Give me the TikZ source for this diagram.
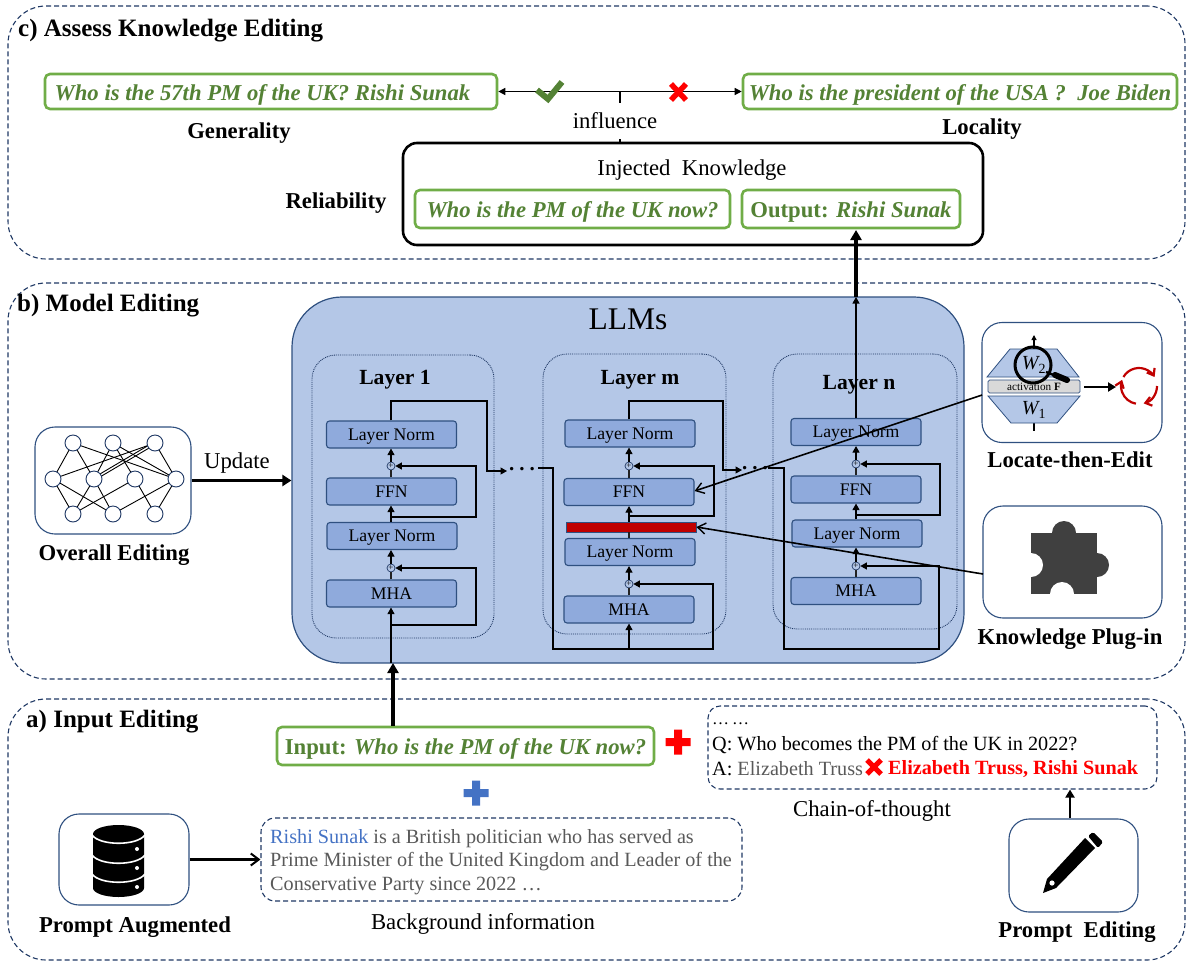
\documentclass[tikz,border=0pt]{standalone}
\usepackage{fontspec}
\setmainfont{Liberation Serif}
\usetikzlibrary{arrows.meta,shapes.geometric,calc}
\definecolor{navy}{HTML}{1F3864}
\definecolor{edgeblue}{HTML}{2F5080}
\definecolor{llmfill}{HTML}{B4C7E7}
\definecolor{blockfill}{HTML}{8FAADC}
\definecolor{gborder}{HTML}{70AD47}
\definecolor{gtext}{HTML}{548235}
\definecolor{darkred}{HTML}{C00000}
\definecolor{wire}{HTML}{222222}
\definecolor{plusblue}{HTML}{4472C4}
\definecolor{puzzle}{HTML}{404040}
\definecolor{greytext}{HTML}{595959}
\newcommand{\fs}[1]{\fontsize{#1}{#1}\selectfont}
\tikzset{
 panel/.style={draw=navy,line width=1.1pt,dash pattern=on 5pt off 3pt,rounded corners=38pt,inner sep=0},
 gbox/.style={draw=gborder,line width=2.6pt,rounded corners=5pt,fill=white,inner sep=0,text=gtext,font=\fs{22.7}\bfseries\itshape,text height=20pt,text depth=3pt},
 iconbox/.style={draw=edgeblue,line width=1.1pt,rounded corners=20pt,fill=white,inner sep=0},
 block/.style={draw=edgeblue,fill=blockfill,line width=1.1pt,rounded corners=3pt,minimum width=130pt,minimum height=27pt,inner sep=0,font=\fs{17.7},text height=14pt,text depth=3pt},
 layerbox/.style={draw=navy,densely dotted,line width=0.9pt,rounded corners=24pt,inner sep=0},
 plusc/.style={circle,draw=navy,fill=llmfill,line width=0.7pt,minimum size=8pt,inner sep=0,font=\fs{9}},
 wirel/.style={draw=wire,line width=1.1pt},
 wirea/.style={draw=black,line width=1.1pt,-{Triangle[length=6.5pt,width=7pt]}},
 bigarrow/.style={draw=black,line width=3.4pt,-{Triangle[length=9pt,width=11pt]}},
 openarrow/.style={draw=black,line width=1.6pt,-{Straight Barb[length=8pt,width=11pt,line width=1.4pt]}},
 lab/.style={inner sep=0,font=\fs{22.7}},
 blab/.style={inner sep=0,font=\fs{22.7}\bfseries},
 netn/.style={circle,draw=navy,fill=white,line width=0.9pt,minimum size=16pt,inner sep=0},
 netl/.style={draw=black,line width=0.9pt},
 txtl/.style={inner sep=0,anchor=west,font=\fs{20.2}},
}
\newcommand{\plusmark}[3]{\fill[#3] ($(#1,#2)+(-12.5,-4)$) -- ++(8.5,0) -- ++(0,-8.5) -- ++(8,0) -- ++(0,8.5) -- ++(8.5,0) -- ++(0,8) -- ++(-8.5,0) -- ++(0,8.5) -- ++(-8,0) -- ++(0,-8.5) -- ++(-8.5,0) -- cycle;}
\begin{document}
\begin{tikzpicture}[x=1pt,y=-1pt]
\useasboundingbox (0,0) rectangle (1190,961);
% panels
\node[panel,minimum width=1177pt,minimum height=253pt] (panelc) at (596.5,132.5) {};
\node[panel,minimum width=1177pt,minimum height=396pt] (panelb) at (596.5,481) {};
\node[panel,minimum width=1177pt,minimum height=261pt] (panela) at (596.5,829.5) {};
\node[blab,anchor=west,font=\fs{25}\bfseries] (tc) at (18,31) {c) Assess Knowledge Editing};
\node[blab,anchor=west,font=\fs{25}\bfseries] (tb) at (17,306) {b) Model Editing};
\node[blab,anchor=west,font=\fs{25}\bfseries] (ta) at (26,722) {a) Input Editing};
% ===== c
\node[gbox,minimum width=452pt,minimum height=35pt] (gen) at (271,91.5) {Who is the 57th PM of the UK? Rishi Sunak\hspace*{17pt}};
\node[gbox,minimum width=434pt,minimum height=35pt] (loc) at (960,91.5) {Who is the president of the USA ?\ \ Joe Biden};
\node[draw=black,line width=2.6pt,rounded corners=14pt,fill=white,minimum width=580pt,minimum height=102pt,inner sep=0] (inj) at (693,194) {};
\coordinate (mid) at (620,92);
\draw[line width=1.2pt] (inj.north -| mid) -- (mid);
\node[lab,fill=white,minimum height=36pt,inner xsep=2pt] (infl) at (615,120.5) {influence};
\draw[line width=1.4pt,{Triangle[length=7pt,width=7pt]}-{Triangle[length=7pt,width=7pt]}] (gen.east) -- (loc.west);
\draw[draw=gtext,line width=6pt] (537,90) -- (548,99) -- (562,82);
\draw[draw=red,line width=5.5pt] (671,84) -- (686,100) (686,84) -- (671,100);
\node[blab] (lgen) at (239,133) {Generality};
\node[blab] (lloc) at (982,129) {Locality};
\node[blab] (lrel) at (336,203) {Reliability};
\node[lab] (linj) at (692,170) {Injected\ \ Knowledge};
\node[gbox,minimum width=315pt,minimum height=38pt] (q) at (572.5,209) {Who is the PM of the UK now?};
\node[gbox,minimum width=218pt,minimum height=38pt] (out) at (851,209) {\upshape Output: \itshape Rishi Sunak};
% ===== b
\node[draw=edgeblue,fill=llmfill,line width=1.2pt,rounded corners=50pt,minimum width=672pt,minimum height=366pt,inner sep=0] (llm) at (628,480) {};
\node[inner sep=0,font=\fs{31.5}] (llmt) at (628,319) {LLMs};
\node[layerbox,minimum width=182pt,minimum height=283pt] (L1) at (403,496.5) {};
\node[layerbox,minimum width=183pt,minimum height=280pt] (Lm) at (634.5,494) {};
\node[layerbox,minimum width=184pt,minimum height=275pt] (Ln) at (865,491.5) {};
\node[blab,font=\fs{21.6}\bfseries] (t1) at (395,380) {Layer 1};
\node[blab,font=\fs{21.6}\bfseries] (tm) at (640,380) {Layer m};
\node[blab,font=\fs{21.6}\bfseries] (tn) at (859,385) {Layer n};
% Layer 1
\node[block] (a1) at (391.5,593.5) {MHA};
\node[block] (a2) at (392,536) {Layer Norm};
\node[block] (a3) at (391.5,491.5) {FFN};
\node[block] (a4) at (391.5,434.5) {Layer Norm};
\node[plusc] (ap1) at (391,568) {+};
\node[plusc] (ap2) at (391,466) {+};
% Layer m
\node[block] (m1) at (629,609.5) {MHA};
\node[block] (m2) at (630,552) {Layer Norm};
\node[draw=edgeblue,fill=darkred,line width=0.8pt,minimum width=130pt,minimum height=10pt,inner sep=0] (mr) at (631,527) {};
\node[block] (m3) at (629,492) {FFN};
\node[block] (m4) at (630,433.5) {Layer Norm};
\node[plusc] (mp1) at (629,584) {+};
\node[plusc] (mp2) at (629,466) {+};
% Layer n
\node[block] (n1) at (856,591) {MHA};
\node[block] (n2) at (857,533.5) {Layer Norm};
\node[block] (n3) at (856,489.5) {FFN};
\node[block] (n4) at (856,432) {Layer Norm};
\node[plusc] (np1) at (856,566) {+};
\node[plusc] (np2) at (856,464) {+};
% wires layer 1
\coordinate (ain) at (391,663);
\coordinate (a1s) at (391,625);
\coordinate (a2s) at (391,517);
\draw[wirea] (ain) -- (a1.south -| ain);
\draw[wirel] (a1.north -| ap1) -- (ap1);
\draw[wirea] (ap1) -- (a2.south -| ap1);
\draw[wirea] (a2.north -| ap1) -- (a3.south -| ap1);
\draw[wirel] (a3.north -| ap2) -- (ap2);
\draw[wirea] (ap2) -- (a4.south -| ap2);
\draw[wirea] (a1s) -- (476,625) -- (476,568) -- (ap1);
\draw[wirea] (a2s) -- (476,517) -- (476,466) -- (ap2);
\coordinate (adot) at (507,471);
\draw[wirea] (a4.north -| ap2) -- (391,401) -- (487,401) -- (487,471) -- (adot);
\node[inner sep=0,font=\fs{21}\bfseries] (d1) at (522,469) {.\kern5pt.\kern5pt.};
% wires layer m
\coordinate (min) at (629,649);
\draw[wirea] (min) -- (m1.south -| min);
\draw[wirel] (m1.north -| mp1) -- (mp1);
\draw[wirea] (mp1) -- (m2.south -| mp1);
\draw[wirel] (m2.north -| mp1) -- (mr.south -| mp1);
\draw[wirea] (mr.north -| mp1) -- (m3.south -| mp1);
\draw[wirel] (m3.north -| mp2) -- (mp2);
\draw[wirea] (mp2) -- (m4.south -| mp2);
\coordinate (mskip) at (629,516);
\draw[wirea] (mskip) -- (714,516) -- (714,466) -- (mp2);
\coordinate (min2) at (538,468);
\draw[wirea] (min2) -- (553,468) -- (553,649) -- (713,649) -- (713,584) -- (mp1);
\coordinate (mdot) at (742,470);
\draw[wirea] (m4.north -| mp2) -- (629,401) -- (723,401) -- (723,470) -- (mdot);
\node[inner sep=0,font=\fs{21}\bfseries] (d2) at (755,468) {.\kern5pt.\kern5pt.};
% wires layer n
\coordinate (nin) at (768,468);
\draw[wirea] (nin) -- (784,468) -- (784,649) -- (939,649) -- (939,566) -- (np1);
\draw[wirel] (n1.north -| np1) -- (np1);
\draw[wirea] (np1) -- (n2.south -| np1);
\draw[wirea] (n2.north -| np1) -- (n3.south -| np1);
\draw[wirel] (n3.north -| np2) -- (np2);
\draw[wirea] (np2) -- (n4.south -| np2);
\coordinate (nskip) at (856,515);
\draw[wirea] (nskip) -- (940,515) -- (940,464) -- (np2);
\coordinate (ntop) at (856,297);
\coordinate (nout) at (856,230);
\draw[wirea] (n4.north -| np2) -- (ntop);
\draw[draw=black,line width=4pt,-{Triangle[length=10pt,width=11pt]}] (ntop) -- (nout);
% Overall editing
\node[iconbox,minimum width=156pt,minimum height=107pt] (ov) at (113,480.5) {};
\foreach \n/\x/\y in {t1/73/443,t2/113/443,t3/155/443,c1/53/479,c2/94/479,c3/135/479,c4/176/479,b1/73/514,b2/113/514,b3/155/514}
  \coordinate (p\n) at (\x,\y);
\foreach \a/\b in {t1/c1,t1/c2,t1/c4,t2/c2,t2/c3,t2/c4,t3/c1,t3/c4,c1/b1,c1/b2,c2/b1,c2/b2,c3/b1,c3/b3,c4/b2,c4/b3}
  \draw[netl] (p\a) -- (p\b);
\draw[netl] ($(pt3)+(0,-1.5)$) -- ($(pc2)+(0,-1.5)$);
\draw[netl] ($(pt3)+(0,1.5)$) -- ($(pc2)+(0,1.5)$);
\foreach \n in {t1,t2,t3,c1,c2,c3,c4,b1,b2,b3}
  \node[netn] (\n) at (p\n) {};
\node[blab] (lov) at (114,555) {Overall Editing};
\draw[bigarrow] (ov.east) -- (llm.west |- ov.east);
\node[lab] (upd) at (237,463) {Update};
% Locate then edit
\node[iconbox,minimum width=180pt,minimum height=120pt] (lte) at (1072,382.5) {};
\node[blab] (llte) at (1070,460) {Locate-then-Edit};
\coordinate (ax) at (1034,349);
\draw[line width=1.1pt] (1034,423) -- (1034,431);
\draw[line width=1.1pt,-{Triangle[length=5pt,width=5pt]}] (ax) -- (1034,335);
\draw[draw=edgeblue,fill=llmfill,line width=0.8pt] (987,377) -- (1010,349) -- (1057,349) -- (1079,377) -- cycle;
\draw[draw=edgeblue,fill=llmfill,line width=0.8pt] (988,396) -- (1011,423) -- (1057,423) -- (1080,396) -- cycle;
\node[draw=edgeblue,fill=gray!30,line width=0.7pt,rounded corners=1.5pt,minimum width=92pt,minimum height=13pt,inner sep=0,font=\fs{11.2}] (act) at (1034,386.5) {activation \textbf{F}};
\node[inner sep=0,font=\fs{20}\itshape] (w2) at (1034,365) {W\textsubscript{\upshape 2}};
\node[inner sep=0,font=\fs{20}\itshape] (w1) at (1034,410) {W\textsubscript{\upshape 1}};
\draw[black,line width=3pt] (1033,365) circle[radius=18pt];
\draw[black,line width=6pt,line cap=round] (1055,375) -- (1067,380);
\draw[black,line width=2.4pt] (1046,372) -- (1056,376);
\coordinate (ca) at (1084,387);
\coordinate (cb) at (1116,387);
\draw[line width=2.6pt,-{Triangle[length=8pt,width=9pt]}] (ca) -- (cb);
\draw[darkred,line width=2.2pt,-{Straight Barb[length=6pt,width=9pt]}] (1123.4,377) arc[start angle=150,end angle=30,radius=18pt];
\draw[darkred,line width=2.2pt,-{Straight Barb[length=6pt,width=9pt]}] (1157,386) arc[start angle=0,end angle=-75,radius=18pt];
\draw[darkred,line width=2.2pt,-{Straight Barb[length=6pt,width=9pt]}] (1135.9,403.7) arc[start angle=-100,end angle=-200,radius=18pt];
% Plug-in
\node[iconbox,minimum width=179pt,minimum height=112pt] (plug) at (1072.5,562) {};
\node[blab] (lplug) at (1070,639) {Knowledge Plug-in};
\fill[puzzle] (1031,533) rectangle (1097,594);
\fill[puzzle] (1064,533) circle[radius=12pt];
\fill[puzzle] (1097,565) circle[radius=12pt];
\fill[white] (1031,565) circle[radius=12pt];
\fill[white] (1062,594) circle[radius=12pt];
% long arrows
\coordinate (lteout) at (982,395);
\coordinate (plugout) at (983,574);
\draw[openarrow] (lteout) -- (m3.east |- 0,491);
\draw[openarrow] (plugout) -- (mr.east);
% ===== a
\node[gbox,minimum width=377pt,minimum height=38pt] (input) at (465.5,746) {\upshape Input: \itshape Who is the PM of the UK now?};
\draw[bigarrow,line width=4pt,-{Triangle[length=10pt,width=11pt]}] (input.north -| 393,0) -- (393,663);
\plusmark{678}{742}{red}
\plusmark{476}{793}{plusblue}
% chain of thought
\node[draw=navy,dash pattern=on 5pt off 3pt,line width=1.1pt,rounded corners=12pt,minimum width=449pt,minimum height=83pt,inner sep=0] (chain) at (932.5,747.5) {};
\node[txtl,font=\fs{17}] (c1t) at (712,724) {…\,…};
\node[txtl] (c2t) at (712,745) {Q: Who becomes the PM of the UK in 2022?};
\node[txtl] (c3t) at (712,769) {A: \textcolor{greytext}{Elizabeth Truss}};
\node[txtl,text=red,font=\fs{20.2}\bfseries] (c4t) at (888,769) {Elizabeth Truss, Rishi Sunak};
\draw[draw=red,line width=5pt] (867,760) -- (881,774) (881,760) -- (867,774);
\node[lab] (lchain) at (872,811) {Chain-of-thought};
% prompt editing
\node[iconbox,minimum width=129pt,minimum height=93pt] (pe) at (1073.5,865.5) {};
\node[blab] (lpe) at (1077,932) {Prompt\ \ Editing};
\draw[draw=black,line width=2.8pt,-{Triangle[length=8pt,width=9pt]}] (pe.north -| 1070,0) -- (chain.south -| 1070,0);
\fill[black] (1043,893) -- (1047,879) -- (1085,838) -- (1095,848) -- (1056,888) -- cycle;
\fill[black,rounded corners=1.5pt] (1088,836) -- (1093,832) -- (1103,842) -- (1098,848) -- cycle;
\fill[white] (1052,883) circle[radius=2.6pt];
% background info
\node[draw=navy,dash pattern=on 5pt off 3pt,line width=1.1pt,rounded corners=14pt,minimum width=481pt,minimum height=83pt,inner sep=0] (bg) at (501.5,859.5) {};
\node[txtl,text=greytext] (b1t) at (270,839) {\textcolor{plusblue}{Rishi Sunak} is a British politician who has served as};
\node[txtl,text=greytext] (b2t) at (270,862) {Prime Minister of the United Kingdom and Leader of the};
\node[txtl,text=greytext] (b3t) at (270,886) {Conservative Party since 2022 …};
\node[lab] (lbg) at (483,924) {Background information};
% prompt augmented
\node[iconbox,minimum width=130pt,minimum height=91pt] (pa) at (124,859.5) {};
\node[blab] (lpa) at (135,927) {Prompt Augmented};
\fill[black] (93,834) arc[start angle=180,end angle=0,x radius=25.5pt,y radius=9pt] -- (144,888) arc[start angle=0,end angle=-180,x radius=25.5pt,y radius=9pt] -- cycle;
\foreach \yy in {835,855,874}
  \draw[white,line width=1.6pt] (92,\yy) .. controls (100,{\yy+11}) and (137,{\yy+11}) .. (145,\yy);
\foreach \yy in {849,868,887}
  \fill[white] (137,\yy) circle[radius=2pt];
\draw[draw=black,line width=2.8pt,-{Straight Barb[length=8pt,width=12pt,line width=2pt]}] (pa.east) -- (bg.west |- pa.east);
\end{tikzpicture}
\end{document}
